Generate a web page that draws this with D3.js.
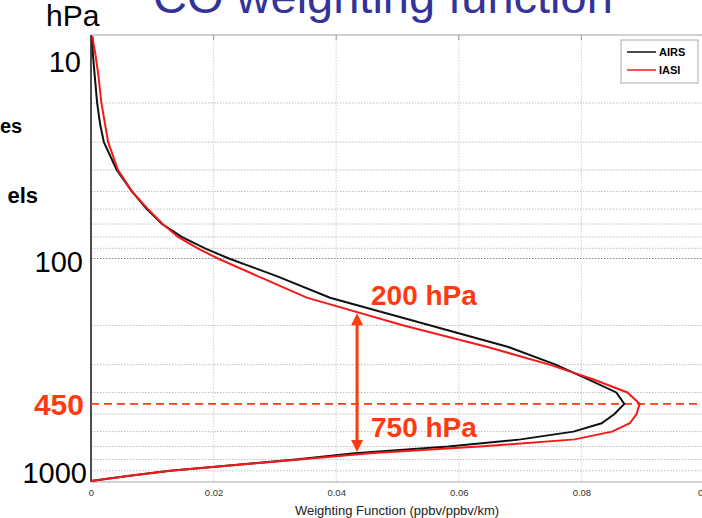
<!DOCTYPE html>
<html>
<head>
<meta charset="utf-8">
<script src="https://cdn.jsdelivr.net/npm/d3@7"></script>
<style>
  body { margin: 0; background: #fff; }
  svg { display: block; font-family: "Liberation Sans", Arial, sans-serif; }
</style>
</head>
<body>
<svg id="chart" width="702" height="518"></svg>
<script>
// pressure levels (hPa) shared by both curves
var pressure = [10, 12, 15, 20, 25, 30, 40, 50, 60, 70, 80, 90, 100, 120, 150, 200, 250, 300,
    350, 400, 450, 500, 550, 600, 650, 700, 750, 800, 850, 900, 950, 1000];

// weighting function (ppbv/ppbv/km)
var airs = [0.0002, 0.0003, 0.0006, 0.0010, 0.0015, 0.0021, 0.0042, 0.0067, 0.0091, 0.0116, 0.0148, 0.0186,
    0.0225, 0.0303, 0.0390, 0.0554, 0.0681, 0.0758, 0.0812, 0.0857, 0.0870, 0.0854, 0.0833, 0.0787,
    0.0701, 0.0583, 0.0430, 0.0334, 0.0230, 0.0129, 0.0060, 0.0000];
var iasi = [0.0002, 0.0007, 0.0012, 0.0017, 0.0023, 0.0028, 0.0044, 0.0067, 0.0093, 0.0117, 0.0142, 0.0174,
    0.0207, 0.0272, 0.0352, 0.0510, 0.0647, 0.0748, 0.0820, 0.0875, 0.0895, 0.0890, 0.0879, 0.0850,
    0.0789, 0.0634, 0.0455, 0.0340, 0.0231, 0.0129, 0.0060, 0.0000];

var seriesNames = ["AIRS", "IASI"];
var xTicks = [0, 0.02, 0.04, 0.06, 0.08, 0.1];
var xTickLabels = ["0", "0.02", "0.04", "0.06", "0.08", "0.1"];
var yLabels = [10, 100, 1000];
var markLevel = 450;
var arrowRange = [176, 741];   // pressure span of the double arrow
var arrowX = 0.0434;
var arrowLabels = ["200 hPa", "750 hPa"];

var orange = "#ff3a10";
var svg = d3.select("#chart");

var x = d3.scaleLinear().domain([0, 0.1]).range([91, 704]);
var y = d3.scaleLog().domain([10, 1000]).range([36, 481]);

// title and stray slide text
svg.append("text").attr("x", 153).attr("y", 13).attr("font-size", 47)
    .attr("fill", "#333399").text("CO weighting function");
svg.append("text").attr("x", 46).attr("y", 26).attr("font-size", 30).text("hPa");
svg.append("text").attr("x", 0).attr("y", 133)
    .attr("font-size", 20).attr("font-weight", "bold").text("es");
svg.append("text").attr("x", 38).attr("y", 203).attr("text-anchor", "end")
    .attr("font-size", 22).attr("font-weight", "bold").text("els");

// grid
var minor = y.ticks().filter(function(d) { return yLabels.indexOf(d) < 0; });
svg.append("g").selectAll("line").data(minor).enter().append("line")
    .attr("x1", x(0)).attr("x2", 702)
    .attr("y1", function(d) { return y(d); }).attr("y2", function(d) { return y(d); })
    .attr("stroke", "#bdbdbd").attr("stroke-dasharray", "1.5,1.5");
svg.append("line").attr("x1", x(0)).attr("x2", 702).attr("y1", y(100)).attr("y2", y(100))
    .attr("stroke", "#888").attr("stroke-dasharray", "1.5,1.5");
svg.append("g").selectAll("line").data(xTicks.slice(1)).enter().append("line")
    .attr("x1", function(d) { return x(d); }).attr("x2", function(d) { return x(d); })
    .attr("y1", 36).attr("y2", 481)
    .attr("stroke", "#cfcfcf").attr("stroke-dasharray", "1.5,1.5");

// frame
svg.append("line").attr("x1", x(0)).attr("x2", 702).attr("y1", 35).attr("y2", 35)
    .attr("stroke", "#cfcfcf").attr("stroke-width", 2);
svg.append("line").attr("x1", x(0)).attr("x2", 702).attr("y1", 482).attr("y2", 482)
    .attr("stroke", "#c4c4c4").attr("stroke-width", 1.5);
svg.append("g").selectAll("line").data(xTicks.slice(1)).enter().append("line")
    .attr("x1", function(d) { return x(d); }).attr("x2", function(d) { return x(d); })
    .attr("y1", 35).attr("y2", 40).attr("stroke", "#999");
svg.append("line").attr("x1", x(0)).attr("x2", x(0)).attr("y1", 35).attr("y2", 482)
    .attr("stroke", "#111").attr("stroke-width", 1.5);

// x axis labels
var xAxis = d3.axisBottom(x).tickValues(xTicks).tickSize(0).tickPadding(7)
    .tickFormat(function(d, i) { return xTickLabels[i]; });
var gx = svg.append("g").attr("transform", "translate(0,482)").call(xAxis);
gx.select(".domain").remove();
gx.selectAll("text").attr("font-size", 9.5).attr("fill", "#333")
    .attr("font-family", "Liberation Sans, Arial, sans-serif");
svg.append("text").attr("x", 397).attr("y", 515).attr("text-anchor", "middle")
    .attr("font-size", 13).attr("fill", "#222").text("Weighting Function (ppbv/ppbv/km)");

// y labels, nudged like on the slide
var nudge = [36, 13, 2];
var rightEdge = [81, 83, 87];
svg.append("g").selectAll("text").data(yLabels).enter().append("text")
    .attr("x", function(d, i) { return rightEdge[i]; })
    .attr("y", function(d, i) { return y(d) + nudge[i]; })
    .attr("text-anchor", "end").attr("font-size", 29).text(function(d) { return d; });

// 450 hPa marker
svg.append("line").attr("x1", x(0)).attr("x2", 702).attr("y1", y(markLevel)).attr("y2", y(markLevel))
    .attr("stroke", orange).attr("stroke-width", 1.8).attr("stroke-dasharray", "8,5");
svg.append("text").attr("x", 84).attr("y", y(markLevel) + 11).attr("text-anchor", "end")
    .attr("font-size", 30).attr("font-weight", "bold").attr("fill", orange).text(markLevel);

// curves
var line = d3.line()
    .x(function(d) { return x(d[1]); })
    .y(function(d) { return y(d[0]); });
var curves = [
    { name: seriesNames[0], color: "#111", values: d3.zip(pressure, airs) },
    { name: seriesNames[1], color: "#f41a1a", values: d3.zip(pressure, iasi) }
];
svg.append("g").selectAll("path").data(curves).enter().append("path")
    .attr("d", function(d) { return line(d.values); })
    .attr("fill", "none").attr("stroke", function(d) { return d.color; })
    .attr("stroke-width", 2);

// double arrow
var ax = x(arrowX), a0 = y(arrowRange[0]), a1 = y(arrowRange[1]);
svg.append("line").attr("x1", ax).attr("x2", ax).attr("y1", a0 + 10).attr("y2", a1 - 10)
    .attr("stroke", orange).attr("stroke-width", 3);
svg.append("path").attr("d", "M" + ax + "," + a0 + "l-6,12h12z").attr("fill", orange);
svg.append("path").attr("d", "M" + ax + "," + a1 + "l-6,-12h12z").attr("fill", orange);
svg.append("text").attr("x", 371).attr("y", 305).attr("font-size", 28).attr("font-weight", "bold")
    .attr("fill", orange).text(arrowLabels[0]);
svg.append("text").attr("x", 371).attr("y", 437).attr("font-size", 28).attr("font-weight", "bold")
    .attr("fill", orange).text(arrowLabels[1]);

// legend
var lg = svg.append("g").attr("transform", "translate(621,40)");
lg.append("rect").attr("width", 77).attr("height", 43).attr("fill", "#fff")
    .attr("stroke", "#aaa");
curves.forEach(function(c, i) {
    lg.append("line").attr("x1", 6).attr("x2", 35).attr("y1", 12 + i * 18).attr("y2", 12 + i * 18)
        .attr("stroke", c.color).attr("stroke-width", 1.5);
    lg.append("text").attr("x", 38).attr("y", 16 + i * 18).attr("font-size", 11)
        .attr("font-weight", "bold").text(c.name);
});
</script>
</body>
</html>
